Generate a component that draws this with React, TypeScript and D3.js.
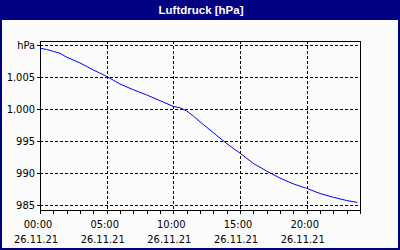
import React from "react";
import * as d3 from "d3";

const hours = [0, 0.5, 1, 1.5, 2, 3, 4, 5, 6, 7, 8, 9, 10, 10.5, 11, 11.5, 12, 13, 14, 15, 16, 17, 18, 19, 20, 21, 22, 23, 23.8];
const pressure = [1009.5, 1009.3, 1009.0, 1008.7, 1008.1, 1007.2, 1006.1, 1005.1, 1003.9, 1003.0, 1002.2, 1001.3, 1000.4, 1000.2, 999.7, 998.9, 998.0, 996.3, 994.6, 993.1, 991.5, 990.3, 989.2, 988.3, 987.6, 986.8, 986.2, 985.7, 985.4];
const yTicks = [1010, 1005, 1000, 995, 990, 985];
const yTickLabels = ["hPa", "1.005", "1.000", "995", "990", "985"];
const xTickHours = [0, 5, 10, 15, 20];
const title = "Luftdruck [hPa]";

const W = 400, H = 250;
const L = 40, R = 360, T = 41, B = 210;
const start = new Date(2021, 10, 26, 0, 0);
const toDate = (h: number) => new Date(start.getTime() + h * 3600 * 1000);

export default function App() {
  const x = d3.scaleTime().domain([start, toDate(24)]).range([L, R]);
  const y = d3.scaleLinear().domain([985 - 5 / 6.4, 1010 + 4 / 6.4]).range([B, T]);
  const px = (v: number) => Math.round(v) + 0.5;
  const line = d3
    .line<number>()
    .x((_, i) => x(toDate(hours[i])))
    .y((d) => y(d));
  const fmtT = d3.timeFormat("%H:%M");
  const fmtD = d3.timeFormat("%d.%m.%y");
  const minor = d3.range(0, 25);
  const font = "'Liberation Sans Narrow', 'DejaVu Sans Condensed', 'Liberation Sans', sans-serif";
  return (
    <svg width={W} height={H} style={{ position: "absolute", left: 0, top: 0, display: "block" }}>
      <rect x={0} y={0} width={W} height={H} fill="#fcfcfc" />
      <rect x={0} y={0} width={W} height={20} fill="#000080" />
      <rect x={1} y={1} width={W - 2} height={H - 2} fill="none" stroke="#000080" strokeWidth={2} />
      <text x={201} y={14} textAnchor="middle" fill="#fff" fontWeight="bold" fontSize={11.5} fontFamily="'Liberation Sans', Arial, sans-serif">
        {title}
      </text>
      {/* horizontal grid */}
      {yTicks.map((t) => (
        <line key={"h" + t} x1={L} x2={R} y1={px(y(t))} y2={px(y(t))} stroke="#000" strokeDasharray="3,2" shapeRendering="crispEdges" />
      ))}
      {/* vertical grid */}
      {xTickHours.slice(1).map((h) => (
        <line key={"v" + h} x1={px(x(toDate(h)))} x2={px(x(toDate(h)))} y1={T} y2={B} stroke="#000" strokeDasharray="3,2" shapeRendering="crispEdges" />
      ))}
      {/* frame */}
      <line x1={L} x2={R + 1} y1={T + 0.5} y2={T + 0.5} stroke="#000" shapeRendering="crispEdges" />
      <line x1={R + 0.5} x2={R + 0.5} y1={T} y2={B + 4} stroke="#000" shapeRendering="crispEdges" />
      <line x1={L + 0.5} x2={L + 0.5} y1={T} y2={B + 4} stroke="#000" shapeRendering="crispEdges" />
      <line x1={L} x2={R + 1} y1={B + 0.5} y2={B + 0.5} stroke="#000" shapeRendering="crispEdges" />
      {minor.map((h) => (
        <line key={"m" + h} x1={px(x(toDate(h)))} x2={px(x(toDate(h)))} y1={B} y2={B + 4} stroke="#000" shapeRendering="crispEdges" />
      ))}
      {yTicks.map((t) => (
        <line key={"yt" + t} x1={L - 3} x2={L} y1={px(y(t))} y2={px(y(t))} stroke="#000" shapeRendering="crispEdges" />
      ))}
      {/* data line */}
      <path d={line(pressure) || ""} fill="none" stroke="#0000ff" strokeWidth={1} />
      {/* y labels */}
      {yTicks.map((t, i) => (
        <text key={"yl" + t} x={35} y={y(t) + 4} textAnchor="end" fontSize={11} fontFamily={font} fill="#000">
          {yTickLabels[i]}
        </text>
      ))}
      {/* x labels */}
      {xTickHours.map((h) => (
        <g key={"xl" + h}>
          <text x={x(toDate(h)) - 2} y={228} textAnchor="middle" fontSize={11} fontFamily={font} fill="#000">
            {fmtT(toDate(h))}
          </text>
          <text x={x(toDate(h)) - 4} y={243} textAnchor="middle" fontSize={11} fontFamily={font} fill="#000">
            {fmtD(toDate(h))}
          </text>
        </g>
      ))}
    </svg>
  );
}
